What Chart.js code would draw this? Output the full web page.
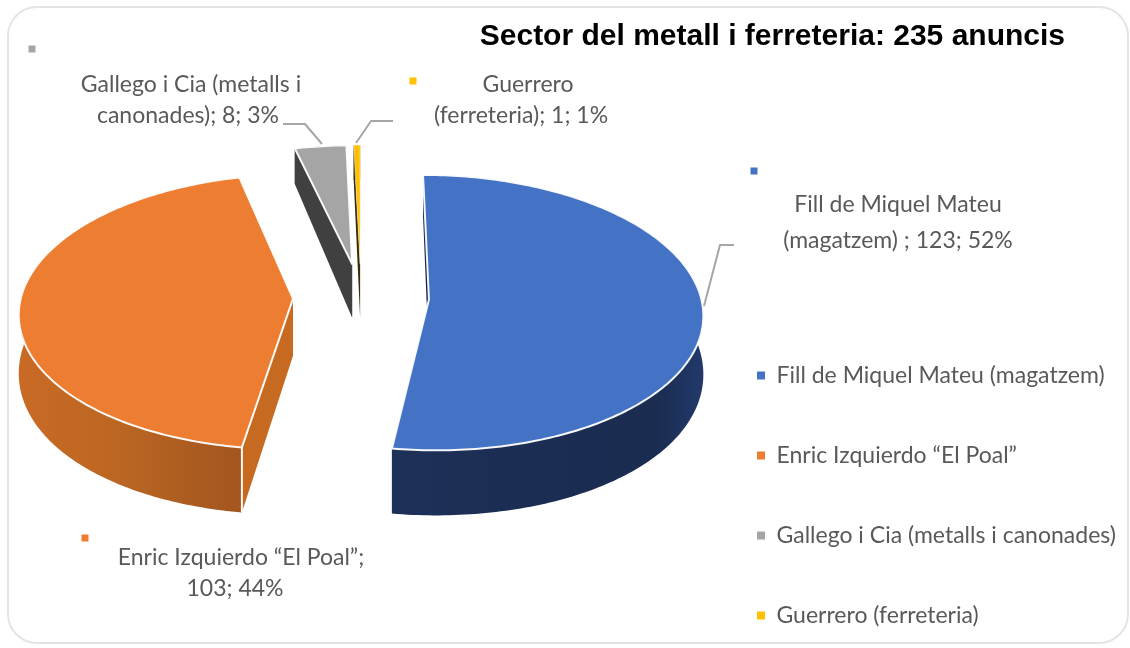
<!DOCTYPE html>
<html><head><meta charset="utf-8">
<script src="https://cdn.jsdelivr.net/npm/chart.js@4"></script>
<style>
html,body{margin:0;padding:0;background:#fff;width:1130px;height:648px;overflow:hidden}
#frame{position:absolute;left:7px;top:6px;width:1122px;height:638px;box-sizing:border-box;border:2px solid #e4e4e4;border-radius:30px;filter:blur(0.6px)}
#wrap{position:absolute;left:0;top:0;width:1130px;height:648px;filter:blur(0.5px)}
</style></head><body>
<div id="frame"></div>
<div id="wrap"><canvas id="c" width="1130" height="648"></canvas></div>
<script>
const categories = ['Fill de Miquel Mateu (magatzem)', 'Enric Izquierdo “El Poal”', 'Gallego i Cia (metalls i canonades)', 'Guerrero (ferreteria)'];
const values = [123, 103, 8, 1];
const percents = [52, 44, 3, 1];
const chartTitle = 'Sector del metall i ferreteria: 235 anuncis';
const colors = ['#4472c4', '#ed7d31', '#a5a5a5', '#ffc000'];
const labelLines = [
  ['Fill de Miquel Mateu', '(magatzem) ; 123; 52%'],
  ['Enric Izquierdo “El Poal”;', '103; 44%'],
  ['Gallego i Cia (metalls i', 'canonades); 8; 3%'],
  ['Guerrero', '(ferreteria); 1; 1%']
];
// styling / view
const FONT = 'Lato, sans-serif', TXT = '#595959';
const view = {cx: 361, cy: 297, rx: 272, ry: 136, k: 0.095, explode: 0.25};
const wallStops = [
  [[0, '#1d3058'], [0.45, '#1b2d52'], [0.85, '#1a2c50'], [1, '#22396b']],
  [[0, '#c96a25'], [0.4, '#bd6723'], [0.85, '#a95a20'], [1, '#a3561f']],
  [[0, '#404040'], [1, '#404040']],
  [[0, '#3a2c08'], [1, '#3a2c08']]
];
const cutFace = ['#14264a', '#c66a21', '#404040', '#3a2c08'];
const labelPos = [
  {xs: [898, 898], ys: [205, 241], mark: [754, 171]},
  {xs: [241, 235], ys: [558, 589], mark: [85, 538]},
  {xs: [191, 188], ys: [85, 116], mark: [32, 49]},
  {xs: [528, 521], ys: [85, 116], mark: [413, 81]}
];
const leaders = [
  [[734, 245], [720, 245], [704, 306]],
  null,
  [[283, 124], [305, 124], [322, 144]],
  [[393, 121], [371, 121], [356, 143]]
];

function depth(v){ return 57 + 12.3*v - 4.3*v*v; }
function proj(u, v, low){
  const s = 1/(1 - view.k*v);
  return {x: view.cx + view.rx*u*s, y: view.cy + view.ry*v*s + (low ? depth(v) : 0)};
}
function poly(ctx, pts){
  ctx.beginPath();
  pts.forEach((p,i)=> i ? ctx.lineTo(p.x,p.y) : ctx.moveTo(p.x,p.y));
  ctx.closePath();
}
const pie3d = {
  id: 'pie3d',
  afterLayout(chart){
    const t = chart.titleBlock, l = chart.legend;
    t.right = 1065; t.top = 0;
    l.left = 700; l.top = 307; l.bottom = 1200;
  },
  beforeDatasetsDraw(chart){
    const ctx = chart.ctx, meta = chart.getDatasetMeta(0);
    const order = [2,3,1,0];
    order.forEach(i=>{
      const el = meta.data[i];
      const a0 = el.startAngle + Math.PI/2, a1 = el.endAngle + Math.PI/2, mid = (a0+a1)/2;
      const ox = Math.sin(mid)*view.explode, oy = -Math.cos(mid)*view.explode;
      const n = Math.max(2, Math.ceil((a1-a0)/(Math.PI/180)));
      const arc = [];
      for (let j=0;j<=n;j++){ const a=a0+(a1-a0)*j/n; arc.push([ox+Math.sin(a), oy-Math.cos(a)]); }
      const topArc = arc.map(p=>proj(p[0],p[1],false));
      const lowArc = arc.map(p=>proj(p[0],p[1],true));
      const apexT = proj(ox,oy,false), apexL = proj(ox,oy,true);
      // cut faces
      ctx.fillStyle = cutFace[i];
      poly(ctx,[apexT,apexL,lowArc[0],topArc[0]]); ctx.fill();
      poly(ctx,[apexT,apexL,lowArc[n],topArc[n]]); ctx.fill();
      // outer wall
      const xs = topArc.map(p=>p.x), minX=Math.min(...xs), maxX=Math.max(...xs);
      const g = ctx.createLinearGradient(minX,0,Math.max(maxX,minX+1),0);
      wallStops[i].forEach(s=>g.addColorStop(s[0],s[1]));
      ctx.fillStyle = g;
      poly(ctx, topArc.concat(lowArc.slice().reverse())); ctx.fill();
      // top face
      poly(ctx,[apexT].concat(topArc));
      ctx.fillStyle = el.options.backgroundColor; ctx.fill();
      ctx.strokeStyle = 'rgba(255,255,255,0.95)'; ctx.lineWidth = i===3 ? 0.5 : 2; ctx.lineJoin='round'; ctx.stroke();
      if (i===1){ // visible vertical edge
        ctx.beginPath(); ctx.moveTo(topArc[0].x,topArc[0].y); ctx.lineTo(lowArc[0].x,lowArc[0].y); ctx.stroke();
      }
    });
    // leaders
    ctx.strokeStyle='#a6a6a6'; ctx.lineWidth=2;
    leaders.forEach(l=>{ if(!l) return; ctx.beginPath(); l.forEach((p,i)=> i?ctx.lineTo(p[0],p[1]):ctx.moveTo(p[0],p[1])); ctx.stroke(); });
    // data labels
    ctx.font = '23px '+FONT; ctx.fillStyle=TXT; ctx.textAlign='center'; ctx.textBaseline='middle';
    labelLines.forEach((lines,i)=>{
      const lp = labelPos[i];
      ctx.fillStyle=TXT;
      lines.forEach((t,j)=>ctx.fillText(t,lp.xs[j],lp.ys[j]));
      ctx.fillStyle=colors[i];
      ctx.fillRect(lp.mark[0]-3.5,lp.mark[1]-3.5,7,7);
    });
    return false;
  }
};
new Chart(document.getElementById('c'), {
  type: 'pie',
  data: {labels: categories, datasets: [{data: values, backgroundColor: colors, borderWidth: 0}]},
  options: {
    responsive: false, animation: false,
    rotation: 0,
    plugins: {
      tooltip: {enabled:false},
      title: {display:true, text: chartTitle, align:'end', color:'#000',
              font:{family:'"Liberation Sans", Arial, sans-serif', size:30, weight:'bold'},
              padding:{top:19,bottom:0}},
      legend: {position:'right', align:'start',
               labels:{boxWidth:8, boxHeight:8, padding:57, color:TXT, font:{family:FONT,size:23}}}
    }
  },
  plugins:[pie3d]
});
</script>
</body></html>
